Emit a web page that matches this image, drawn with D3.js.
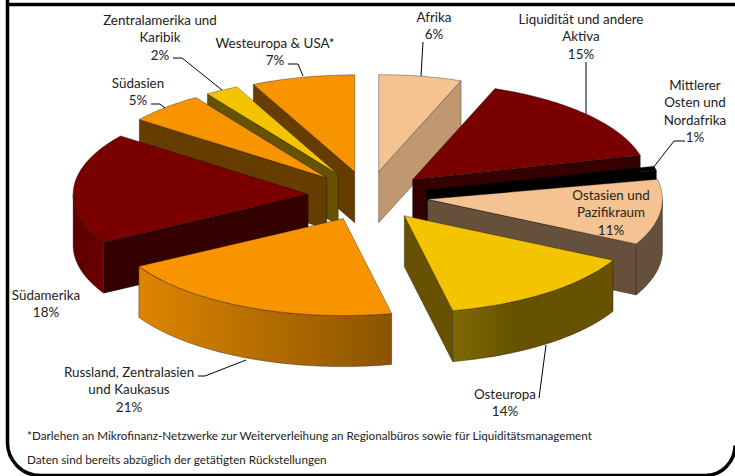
<!DOCTYPE html>
<html><head><meta charset="utf-8">
<script src="https://cdn.jsdelivr.net/npm/d3@7/dist/d3.min.js"></script>
<style>html,body{margin:0;padding:0;background:#fff}svg{display:block}text{font-family:Lato,sans-serif;fill:#222}</style>
</head><body><svg id="c" width="735" height="476"></svg>
<script>
const categories = ["Afrika","Liquidität und andere|Aktiva","Mittlerer|Osten und|Nordafrika","Ostasien und|Pazifikraum","Osteuropa","Russland, Zentralasien|und Kaukasus","Südamerika","Südasien","Zentralamerika und|Karibik","Westeuropa & USA*"];
const percentLabels = ["6%","15%","1%","11%","14%","21%","18%","5%","2%","7%"];
const shares = [5.7,15.3,0.7,10.9,14.1,20.1,18.5,5.3,2.3,7.1];
const topColors = ["#f5c391","#7a0000","#000000","#f5c391","#f5c400","#f79400","#7a0000","#f79400","#f5c400","#f79400"];
const faceColors = ["#bf9870","#350000","#000000","#65503c","#665200","#663d00","#350000","#663d00","#665200","#663d00"];
const rimStart = ["#bf9870","#350000","#000000","#65503c","#806800","#de8500","#5c0000","#663d00","#665200","#663d00"];
const rimEnd = ["#bf9870","#350000","#000000","#65503c","#665200","#8a5400","#6c0000","#663d00","#665200","#663d00"];
const rimStop = [1,1,1,1,.4,1,1,1,1,1];
const labelX = [434,581,695,611,505,129,46,138,160,275];
const labelY = [17,19,85,195,394,372,295,83,20,43];
const leaders = [
 [[423,42],[421,76]],
 [[586,62],[586,114]],
 [[685,141],[674,141],[653,168]],
 null,
 [[539,398],[546,345]],
 [[198,376],[205,376],[246,360]],
 null,
 [[151,104],[160,104],[165,108]],
 [[173,58],[182,58],[222,90]],
 [[288,64],[298,64],[303,76]]
];
const footnotes = ["*Darlehen an Mikrofinanz-Netzwerke zur Weiterverleihung an Regionalbüros sowie für Liquiditätsmanagement","Daten sind bereits abzüglich der getätigten Rückstellungen"];

const W=735,H=476, cx=368, cy=196, rx=235, ry=97, depth=51, explode=60, tilt=ry/rx;
const svg=d3.select("#c");
const defs=svg.append("defs");
// frame
svg.append("path").attr("d","M7.5,0V442A33,33 0 0 0 40.5,475.5H705A30,30 0 0 0 735,445.5M7,4.5H735")
  .attr("fill","none").attr("stroke","#000").attr("stroke-width",3.5);

const pie=d3.pie().sort(null).value(d=>d).startAngle(0).endAngle(2*Math.PI);
const arcs=pie(shares).map((d,i)=>({...d,i}));
const P=(a,ox,oy,dy=0)=>[ox+rx*Math.sin(a), oy-ry*Math.cos(a)+dy];
const line=d3.line();
const arcPts=(a0,a1,ox,oy,dy=0)=>{const n=Math.max(2,Math.ceil((a1-a0)/0.02));return d3.range(n+1).map(k=>P(a0+(a1-a0)*k/n,ox,oy,dy));};

const order=arcs.slice().sort((a,b)=>d3.descending(Math.cos((a.startAngle+a.endAngle)/2),Math.cos((b.startAngle+b.endAngle)/2)));
const g=svg.append("g");
order.forEach(d=>{
  const i=d.i,mid=(d.startAngle+d.endAngle)/2;
  const ox=cx+explode*Math.sin(mid), oy=cy-explode*tilt*Math.cos(mid);
  const a0=d.startAngle,a1=d.endAngle;
  const sl=g.append("g");
  const edge="rgba(0,0,0,.55)";
  const face=(pt)=>sl.append("path").attr("d",line([[ox,oy],pt,[pt[0],pt[1]+depth],[ox,oy+depth]])+"Z").attr("fill",faceColors[i]).attr("stroke",edge).attr("stroke-width",.6);
  if(Math.sin(a0)<-1e-6) face(P(a0,ox,oy));
  if(Math.sin(a1)>1e-6) face(P(a1,ox,oy));
  const r0=Math.max(a0,Math.PI/2), r1=Math.min(a1,3*Math.PI/2);
  if(r1>r0){
    const top=arcPts(r0,r1,ox,oy), bot=arcPts(r0,r1,ox,oy,depth).reverse();
    const xs=top.map(p=>p[0]);
    const id="rim"+i;
    const lg=defs.append("linearGradient").attr("id",id).attr("gradientUnits","userSpaceOnUse")
      .attr("x1",d3.min(xs)).attr("x2",d3.max(xs)).attr("y1",0).attr("y2",0);
    lg.append("stop").attr("offset",0).attr("stop-color",rimStart[i]);
    lg.append("stop").attr("offset",rimStop[i]).attr("stop-color",rimEnd[i]);
    sl.append("path").attr("d",line(top.concat(bot))+"Z").attr("fill",`url(#${id})`).attr("stroke",edge).attr("stroke-width",.6);
  }
  sl.append("path").attr("d",line([[ox,oy]].concat(arcPts(a0,a1,ox,oy)))+"Z").attr("fill",topColors[i]).attr("stroke",edge).attr("stroke-width",.6);
});

leaders.forEach(pts=>{ if(pts) svg.append("path").attr("d",line(pts)).attr("fill","none").attr("stroke","#000").attr("stroke-width",1); });

const lh=17.5;
categories.forEach((c,i)=>{
  const lines=c.split("|").concat(percentLabels[i]);
  const t=svg.append("text").attr("text-anchor","middle").attr("font-size",13.4);
  lines.forEach((s,k)=>t.append("tspan").attr("x",labelX[i]).attr("y",labelY[i]+k*lh+4.5).text(s));
});
footnotes.forEach((s,k)=>svg.append("text").attr("x",27).attr("y",[440,463.5][k]).attr("font-size",11.7).text(s));
</script></body></html>
